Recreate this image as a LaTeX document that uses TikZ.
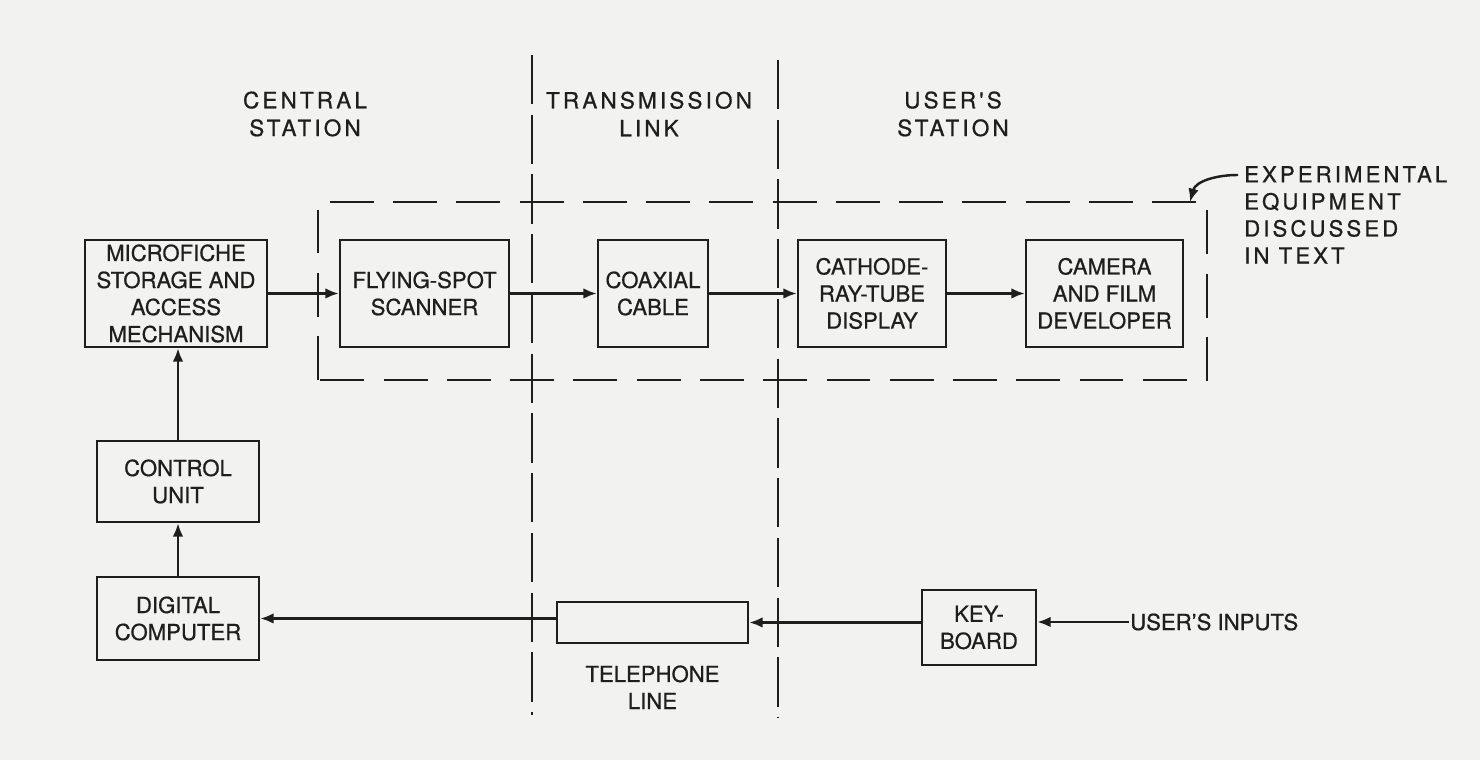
\documentclass[tikz,border=0pt]{standalone}
\usepackage{fontspec}
\setmainfont{TeX Gyre Heros}[FakeBold=0.7]
\newfontfamily\widefont{TeX Gyre Heros}[LetterSpace=14, FakeBold=0.8]
\usetikzlibrary{positioning, arrows.meta}
\definecolor{paper}{RGB}{242,242,241}
\definecolor{ink}{RGB}{30,30,30}

\begin{document}
\begin{tikzpicture}[>={Latex[length=3.8pt, width=3pt]}, line width=0.7pt, draw=ink, text=ink,
  font=\fontsize{6.3}{7.7}\selectfont,
  blk/.style={draw, align=center, inner sep=0pt, minimum height=1.07cm},
  head/.style={align=center, inner sep=0pt, font=\fontsize{6.4}{7.9}\selectfont\widefont},
  border/.style={dash pattern=on 14pt off 3pt, line width=0.6pt},
  frame/.style={dash pattern=on 12.5pt off 5.5pt, line width=0.6pt}]
  % paper
  \fill[paper] (0,0) rectangle (14.8,7.6);
  \useasboundingbox (0,0) rectangle (14.8,7.6);

  % station borders
  \draw[border] (5.32,7.05) -- (5.32,0.45);
  \draw[border] (7.78,7.00) -- (7.78,0.42);
  \node[head] (central) at (3.05,6.46) {CENTRAL\\STATION};
  \node[head] (link) at (6.49,6.46) {TRANSMISSION\\LINK};
  \node[head] (userstn) at (9.53,6.46) {USER'S\\STATION};

  % experimental equipment
  \draw[frame] (3.18,3.80) rectangle (12.07,5.58);
  \node[align=left, inner sep=0pt, anchor=north west, font=\fontsize{6.3}{7.7}\selectfont\widefont] (note) at (12.43,5.95)
    {EXPERIMENTAL\\EQUIPMENT\\DISCUSSED\\IN TEXT};
  \coordinate (corner) at (11.90,5.58);
  \draw[->] ([shift={(-0.05,-0.1)}]note.north west) to[out=180, in=75] (corner);

  % top row
  \node[blk, minimum width=1.82cm] (micro) at (1.76,4.665) {MICROFICHE\\STORAGE AND\\ACCESS\\MECHANISM};
  \node[blk, minimum width=1.69cm] (scanner) at (4.245,4.665) {FLYING-SPOT\\SCANNER};
  \node[blk, minimum width=1.10cm] (coax) at (6.53,4.665) {COAXIAL\\CABLE};
  \node[blk, minimum width=1.48cm] (crt) at (8.72,4.665) {CATHODE-\\RAY-TUBE\\DISPLAY};
  \node[blk, minimum width=1.57cm] (camera) at (11.045,4.665) {CAMERA\\AND FILM\\DEVELOPER};
  \draw[->] (micro) -- (scanner);
  \draw[->] (scanner) -- (coax);
  \draw[->] (coax) -- (crt);
  \draw[->] (crt) -- (camera);

  % left column
  \node[blk, minimum width=1.62cm, minimum height=0.81cm] (control) at (1.78,2.785) {CONTROL\\UNIT};
  \node[blk, minimum width=1.62cm, minimum height=0.83cm] (computer) at (1.78,1.415) {DIGITAL\\COMPUTER};
  \draw[->] (computer) -- (control);
  \draw[->] (control.north) -- (control.north |- micro.south);

  % request path
  \node[blk, minimum width=1.91cm, minimum height=0.41cm] (phone) at (6.525,1.375) {};
  \node[align=center, inner sep=0pt, below=0.2cm of phone] (phonelbl) {TELEPHONE\\LINE};
  \node[blk, minimum width=1.14cm, minimum height=0.75cm] (keyb) at (9.79,1.325) {KEY-\\BOARD};
  \node[anchor=west, inner sep=0pt] (inputs) at (11.29,1.38) {USER'S INPUTS};
  \draw[->] (inputs.west) -- (inputs.west -| keyb.east);
  \draw[->] (keyb.west |- phone.east) -- (phone.east);
  \draw[->] ([yshift=0.04cm]phone.west) -- ([yshift=0.04cm]phone.west -| computer.east);
\end{tikzpicture}
\end{document}
